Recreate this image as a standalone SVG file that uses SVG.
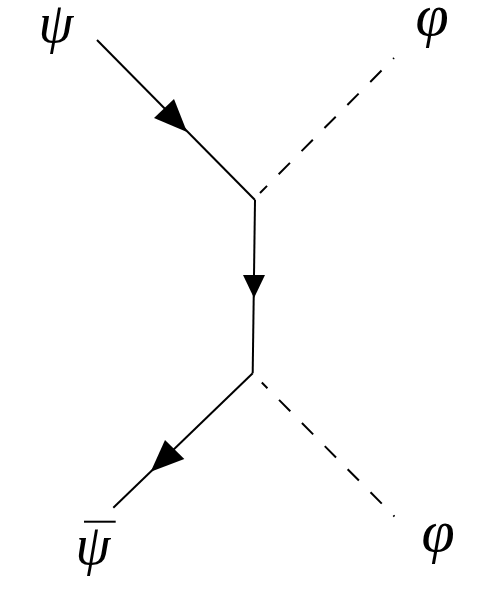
<svg xmlns="http://www.w3.org/2000/svg" width="501" height="594" viewBox="0 0 501 594">
<style>
.fermion{fill:none;stroke:#000;stroke-width:2}
.scalar{fill:none;stroke:#000;stroke-width:2;stroke-dasharray:16 16.5}
.arrow{fill:#000;stroke:none}
.psi{font-family:"Liberation Serif","DejaVu Serif",serif;font-style:italic;font-size:56px;fill:#000;text-anchor:middle}
.phi{font-family:"Liberation Serif","DejaVu Serif",serif;font-style:italic;font-size:60px;fill:#000;text-anchor:middle}
</style>
<rect width="501" height="594" fill="#fff"/>
<g id="connectors">
<path class="fermion" d="M97,40 L255,200"/>
<polygon class="arrow" points="154,118 174,99 187,132"/>
<path class="fermion" d="M255,200 L252.7,373.3"/>
<polygon class="arrow" points="243,275 265,275 254,298"/>
<path class="fermion" d="M252.7,373.3 L113.3,507.7"/>
<polygon class="arrow" points="165,440 184.3,459 150.7,471.7"/>
<path class="scalar" d="M260,193 L394,58" stroke-dashoffset="6"/>
<path class="scalar" d="M261.8,382.5 L394.5,516.5" stroke-dashoffset="8"/>
</g>
<g id="psi">
<text class="psi" x="56" y="42">ψ</text>
</g>
<g id="phi-top">
<text class="phi" x="432" y="35">φ</text>
</g>
<g id="psibar">
<line x1="84" y1="521.7" x2="115.7" y2="521.7" stroke="#000" stroke-width="2"/>
<text class="psi" x="93" y="564">ψ</text>
</g>
<g id="phi-bottom">
<text class="phi" x="438" y="551">φ</text>
</g>
</svg>
